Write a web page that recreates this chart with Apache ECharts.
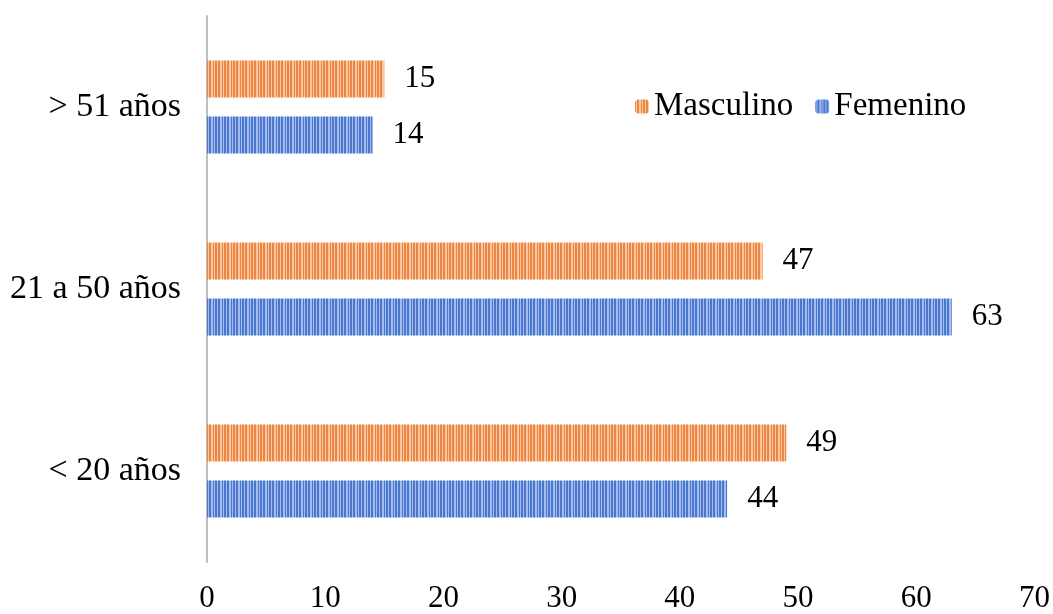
<!DOCTYPE html>
<html>
<head>
<meta charset="utf-8">
<script src="https://cdn.jsdelivr.net/npm/echarts@6/dist/echarts.min.js"></script>
<style>
  html, body { margin: 0; padding: 0; background: #fff; }
  #chart { width: 1053px; height: 614px; }
</style>
</head>
<body>
<div id="chart"></div>
<script>
// Age groups (bottom to top) and counts per sex
const categories = ['< 20 años', '21 a 50 años', '> 51 años'];
const masculino = [49, 47, 15];
const femenino = [44, 63, 14];
const xTicks = [0, 10, 20, 30, 40, 50, 60, 70];

// Vertical-stripe fill built on a small canvas tile
function stripes(base, light) {
  const c = document.createElement('canvas');
  c.width = 9; c.height = 8;
  const g = c.getContext('2d');
  g.fillStyle = base; g.fillRect(0, 0, 9, 8);
  g.fillStyle = light;
  g.fillRect(1, 0, 1, 8);
  g.fillRect(4, 0, 2, 8);
  g.fillRect(7, 0, 1, 8);
  return { image: c, repeat: 'repeat' };
}

const orangeFill = stripes('#ee8540', '#f9c8a4');
const blueFill = stripes('#4a77cf', '#a6bdec');

const font = '"Liberation Serif", "Times New Roman", serif';
const chart = echarts.init(document.getElementById('chart'));

const valueLabel = { show: true, position: 'right', distance: 20, fontFamily: font, fontSize: 31, color: '#000' };

chart.setOption({
  animation: false,
  textStyle: { fontFamily: font },
  grid: { left: 207, right: 16, top: 16, bottom: 44, containLabel: false },
  legend: {
    data: ['Masculino', 'Femenino'],
    top: 85,
    left: 630,
    itemWidth: 14,
    itemHeight: 14,
    itemGap: 22,
    textStyle: { fontFamily: font, fontSize: 33, color: '#000' }
  },
  xAxis: {
    type: 'value',
    min: 0,
    max: 70,
    interval: 10,
    axisLine: { show: false },
    axisTick: { show: false },
    splitLine: { show: false },
    axisLabel: {
      fontFamily: font, fontSize: 31, color: '#000', margin: 21,
      formatter: v => xTicks.includes(v) ? String(v) : ''
    }
  },
  yAxis: {
    type: 'category',
    data: categories,
    axisLine: { show: true, lineStyle: { color: '#bfbfbf', width: 2 } },
    axisTick: { show: false },
    axisLabel: { fontFamily: font, fontSize: 34, color: '#000', margin: 26 }
  },
  series: [
    {
      name: 'Masculino',
      type: 'bar',
      data: masculino,
      barGap: '51%',
      barCategoryGap: '49%',
      itemStyle: { color: orangeFill },
      label: valueLabel
    },
    {
      name: 'Femenino',
      type: 'bar',
      data: femenino,
      barGap: '51%',
      barCategoryGap: '49%',
      itemStyle: { color: blueFill },
      label: valueLabel
    }
  ]
});
</script>
</body>
</html>
